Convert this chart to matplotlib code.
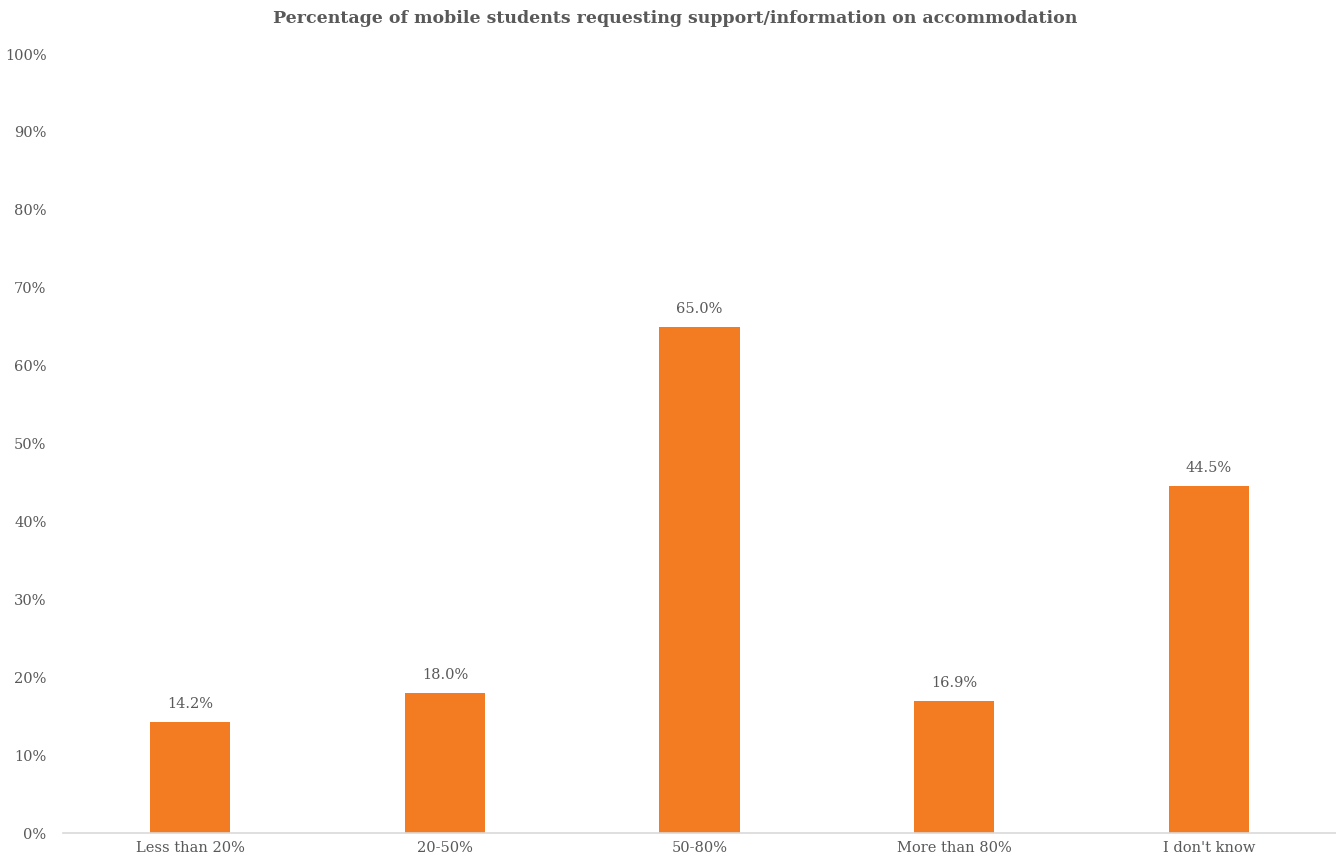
import numpy as np
import matplotlib
matplotlib.use('Agg')
import matplotlib.pyplot as plt
import matplotlib.ticker as ticker

plt.rcParams['font.family'] = 'DejaVu Serif'

# data
categories = ['Less than 20%', '20-50%', '50-80%', 'More than 80%', "I don't know"]
values = [14.2, 18.0, 65.0, 16.9, 44.5]
yticks = [0, 10, 20, 30, 40, 50, 60, 70, 80, 90, 100]

bar_color = '#F37C22'
text_color = '#595959'

fig = plt.figure(figsize=(13.36, 8.67), dpi=100)
ax = fig.add_axes([0.0472, 0.0392, 0.9528, 0.8985])

x = np.arange(len(categories))
bars = ax.bar(x, values, width=0.315, color=bar_color, zorder=2)

for xi, v in zip(x, values):
    ax.text(xi, v + 1.4, '%.1f%%' % v, ha='center', va='bottom',
            fontsize=10.5, color=text_color)

ax.set_xlim(-0.5, len(categories) - 0.5)
ax.set_ylim(0, 100)
ax.set_yticks(yticks)
ax.yaxis.set_major_formatter(ticker.FuncFormatter(lambda v, p: '%d%%' % v))
ax.set_xticks(x)
ax.set_xticklabels(categories)

for s in ['top', 'right', 'left']:
    ax.spines[s].set_visible(False)
ax.spines['bottom'].set_color('#D9D9D9')
ax.spines['bottom'].set_linewidth(1.2)
ax.tick_params(axis='both', length=0, labelsize=10.5, labelcolor=text_color)
ax.tick_params(axis='y', pad=12)
ax.tick_params(axis='x', pad=6)

fig.text(0.5052, 0.979, 'Percentage of mobile students requesting support/information on accommodation',
         ha='center', va='center', fontsize=12.5, fontweight='bold', color=text_color)

fig.savefig('out.png', dpi=100)
